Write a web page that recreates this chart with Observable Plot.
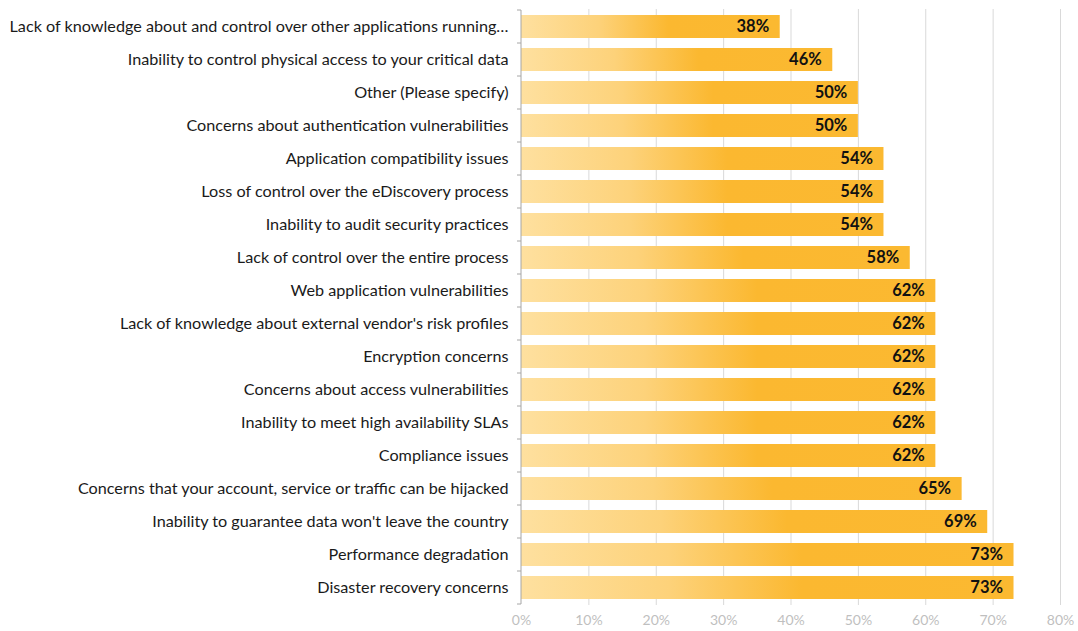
<!DOCTYPE html>
<html>
<head>
<meta charset="utf-8">
<script src="https://cdn.jsdelivr.net/npm/d3@7"></script>
<script src="https://cdn.jsdelivr.net/npm/@observablehq/plot@0.6"></script>
<style>
  html, body { margin: 0; padding: 0; background: #fff; }
  #chart svg { display: block; }
</style>
</head>
<body>
<div id="chart"></div>
<script>
const categories = [
  "Lack of knowledge about and control over other applications running…",
  "Inability to control physical access to your critical data",
  "Other (Please specify)",
  "Concerns about authentication vulnerabilities",
  "Application compatibility issues",
  "Loss of control over the eDiscovery process",
  "Inability to audit security practices",
  "Lack of control over the entire process",
  "Web application vulnerabilities",
  "Lack of knowledge about external vendor's risk profiles",
  "Encryption concerns",
  "Concerns about access vulnerabilities",
  "Inability to meet high availability SLAs",
  "Compliance issues",
  "Concerns that your account, service or traffic can be hijacked",
  "Inability to guarantee data won't leave the country",
  "Performance degradation",
  "Disaster recovery concerns"
];
const values = [38.4, 46.2, 50, 50, 53.8, 53.8, 53.8, 57.7, 61.5, 61.5, 61.5, 61.5, 61.5, 61.5, 65.4, 69.2, 73.1, 73.1];
const xTicks = [0, 10, 20, 30, 40, 50, 60, 70, 80];

const data = categories.map((c, i) => ({category: c, value: values[i]}));

const FONT = "Lato, 'Open Sans', sans-serif";

// custom mark: gradient definition + y-axis line with boundary ticks
function axisDecor(index, scales, vals, dims) {
  const g = d3.create("svg:g");
  const defs = g.append("defs");
  const grad = defs.append("linearGradient").attr("id", "barGrad")
    .attr("x1", "0").attr("x2", "1").attr("y1", "0").attr("y2", "0");
  grad.append("stop").attr("offset", "0").attr("stop-color", "#fee09f");
  grad.append("stop").attr("offset", "0.3").attr("stop-color", "#fdd27a");
  grad.append("stop").attr("offset", "0.57").attr("stop-color", "#fbb830");
  grad.append("stop").attr("offset", "1").attr("stop-color", "#fbb931");

  const y = scales.y;
  const x0 = scales.x(0);
  const bw = y.bandwidth();
  const step = y.step();
  const half = (step - bw) / 2;
  const top = y(categories[0]) - half;
  const bottom = y(categories[categories.length - 1]) + bw + half;
  const ax = g.append("g").attr("stroke", "#a6a6a6").attr("fill", "none");
  ax.append("line").attr("x1", x0).attr("x2", x0).attr("y1", top).attr("y2", bottom);
  for (let i = 0; i <= categories.length; i++) {
    const yy = top + i * step;
    ax.append("line").attr("x1", x0 - 4).attr("x2", x0).attr("y1", yy).attr("y2", yy);
  }
  return g.node();
}

const chart = Plot.plot({
  width: 1078,
  height: 631,
  marginLeft: 521,
  marginRight: 18,
  marginTop: 9,
  marginBottom: 26,
  style: {fontFamily: FONT, background: "#fff"},
  x: {domain: [0, 80], axis: null},
  y: {domain: categories, paddingInner: 0.3, paddingOuter: 0.15, axis: null},
  marks: [
    Plot.gridX(xTicks.filter(d => d > 0), {stroke: "#d9d9d9", strokeOpacity: 1, strokeWidth: 1}),
    Plot.barX(data, {x: "value", y: "category", fill: "url(#barGrad)"}),
    axisDecor,
    Plot.axisY({
      tickSize: 0, tickPadding: 13, fontSize: 16.2, fill: "#1a1a1a",
      label: null
    }),
    Plot.axisX(xTicks, {
      tickSize: 0, tickPadding: 10, fontSize: 14, fill: "#bfbfbf",
      tickFormat: d => d + "%", label: null
    }),
    Plot.text(data, {
      x: "value", y: "category",
      text: d => Math.round(d.value) + "%",
      textAnchor: "end", dx: -11,
      fontSize: 16.5, fontWeight: "bold", fill: "#111"
    })
  ]
});

document.getElementById("chart").appendChild(chart);
</script>
</body>
</html>
